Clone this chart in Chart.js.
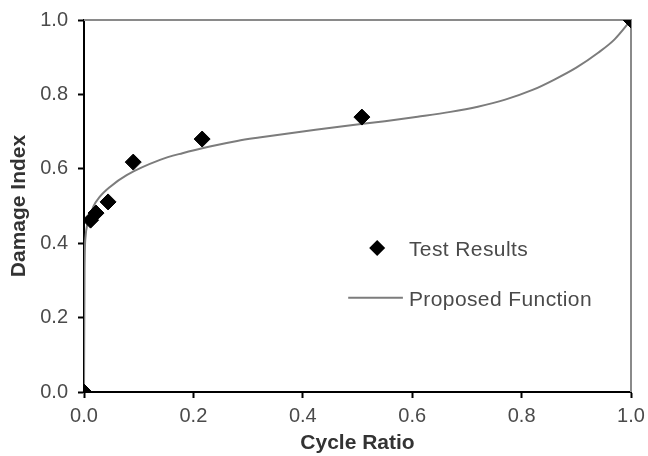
<!DOCTYPE html>
<html>
<head>
<meta charset="utf-8">
<script src="https://cdn.jsdelivr.net/npm/chart.js@4/dist/chart.umd.min.js"></script>
<style>
  html, body { margin: 0; padding: 0; background: #fff; }
  #wrap { width: 648px; height: 456px; }
</style>
</head>
<body>
<div id="wrap"><canvas id="c" width="648" height="456"></canvas></div>
<script>
// Test results (cycle ratio, damage index)
const testX = [0, 0.012, 0.022, 0.044, 0.090, 0.216, 0.508, 1.0];
const testY = [0, 0.462, 0.481, 0.511, 0.618, 0.680, 0.739, 1.0];

// Proposed function curve
const fnX = [0, 0.001, 0.003, 0.006, 0.01, 0.017, 0.029, 0.048, 0.078, 0.139, 0.18, 0.23, 0.28, 0.32, 0.4, 0.47, 0.55, 0.61, 0.67, 0.72, 0.77, 0.82, 0.86, 0.9, 0.94, 0.97, 1.0];
const fnY = [0, 0.33, 0.42, 0.45, 0.466, 0.498, 0.525, 0.552, 0.583, 0.624, 0.642, 0.66, 0.675, 0.684, 0.70, 0.714, 0.728, 0.74, 0.753, 0.767, 0.786, 0.812, 0.84, 0.872, 0.912, 0.948, 1.0];

const xTickLabels = ['0.0', '0.2', '0.4', '0.6', '0.8', '1.0'];
const yTickLabels = ['0.0', '0.2', '0.4', '0.6', '0.8', '1.0'];

const seriesNames = ['Test Results', 'Proposed Function'];
const axisTitles = { x: 'Cycle Ratio', y: 'Damage Index' };

const FONT = "'Liberation Sans', Arial, Helvetica, sans-serif";
const tickColor = '#4a4a4a';
const titleColor = '#333333';
const curveColor = '#7c7c7c';

const toPts = (xs, ys) => xs.map((x, i) => ({ x: x, y: ys[i] }));

const frame = {
  id: 'frame',
  beforeDatasetsDraw(chart) {
    const { ctx, chartArea: a } = chart;
    ctx.save();
    ctx.strokeStyle = '#8a8a8a';
    ctx.lineWidth = 2;
    ctx.beginPath();
    ctx.moveTo(a.left, a.top);
    ctx.lineTo(a.right, a.top);
    ctx.lineTo(a.right, a.bottom);
    ctx.stroke();
    ctx.restore();
  }
};

const legendInside = {
  id: 'legendInside',
  afterDatasetsDraw(chart) {
    const { ctx, chartArea: a } = chart;
    const w = a.right - a.left, h = a.bottom - a.top;
    const textX = a.left + 0.594 * w;
    const y1 = a.top + 0.618 * h;
    const y2 = a.top + 0.752 * h;
    ctx.save();
    // diamond marker
    const mx = a.left + 0.536 * w;
    const r = 8;
    ctx.fillStyle = '#000';
    ctx.beginPath();
    ctx.moveTo(mx, y1 - 2 - r);
    ctx.lineTo(mx + r, y1 - 2);
    ctx.lineTo(mx, y1 - 2 + r);
    ctx.lineTo(mx - r, y1 - 2);
    ctx.closePath();
    ctx.fill();
    // line
    ctx.strokeStyle = curveColor;
    ctx.lineWidth = 2;
    ctx.beginPath();
    ctx.moveTo(a.left + 0.483 * w, y2 - 2);
    ctx.lineTo(a.left + 0.583 * w, y2 - 2);
    ctx.stroke();
    ctx.fillStyle = tickColor;
    ctx.font = '21px ' + FONT;
    try { ctx.letterSpacing = '0.4px'; } catch (e) {}
    ctx.textBaseline = 'middle';
    ctx.textAlign = 'left';
    ctx.fillText(seriesNames[0], textX, y1);
    ctx.fillText(seriesNames[1], textX, y2);
    ctx.restore();
  }
};

new Chart(document.getElementById('c'), {
  type: 'scatter',
  data: {
    datasets: [
      {
        label: seriesNames[0],
        data: toPts(testX, testY),
        pointStyle: 'rectRot',
        pointRadius: 8,
        pointBackgroundColor: '#000',
        pointBorderColor: '#000',
        pointBorderWidth: 1,
        showLine: false
      },
      {
        label: seriesNames[1],
        data: toPts(fnX, fnY),
        showLine: true,
        borderColor: curveColor,
        borderWidth: 2,
        pointRadius: 0,
        cubicInterpolationMode: 'monotone',
        fill: false
      }
    ]
  },
  options: {
    responsive: false,
    animation: false,
    events: [],
    layout: { padding: { left: 0, right: 17, top: 20, bottom: 0 } },
    plugins: { legend: { display: false }, tooltip: { enabled: false } },
    scales: {
      x: {
        type: 'linear',
        min: 0, max: 1,
        afterFit(s) { s.height = 64; s.paddingRight = 0; s.paddingLeft = 0; },
        afterBuildTicks(s) { s.ticks = xTickLabels.map(v => ({ value: parseFloat(v) })); },
        ticks: {
          padding: 6,
          color: tickColor,
          font: { family: FONT, size: 20 },
          callback: (v, i) => xTickLabels[i],
          maxRotation: 0
        },
        grid: { drawOnChartArea: false, drawTicks: true, tickLength: 6, tickWidth: 2, tickColor: '#000' },
        border: { display: true, color: '#000', width: 2 },
        title: { display: true, text: axisTitles.x, color: titleColor, font: { family: FONT, size: 21, weight: 'bold' }, padding: { top: 0, bottom: 0 } }
      },
      y: {
        type: 'linear',
        min: 0, max: 1,
        afterFit(s) { s.width = 84; s.paddingTop = 0; s.paddingBottom = 0; },
        afterBuildTicks(s) { s.ticks = yTickLabels.map(v => ({ value: parseFloat(v) })); },
        ticks: {
          padding: 10,
          color: tickColor,
          font: { family: FONT, size: 20 },
          callback: (v, i) => yTickLabels[i]
        },
        grid: { drawOnChartArea: false, drawTicks: true, tickLength: 6, tickWidth: 2, tickColor: '#000' },
        border: { display: true, color: '#000', width: 2 },
        title: { display: true, text: axisTitles.y, color: titleColor, font: { family: FONT, size: 21, weight: 'bold' }, padding: { top: 7, bottom: 0 } }
      }
    }
  },
  plugins: [frame, legendInside]
});
</script>
</body>
</html>
